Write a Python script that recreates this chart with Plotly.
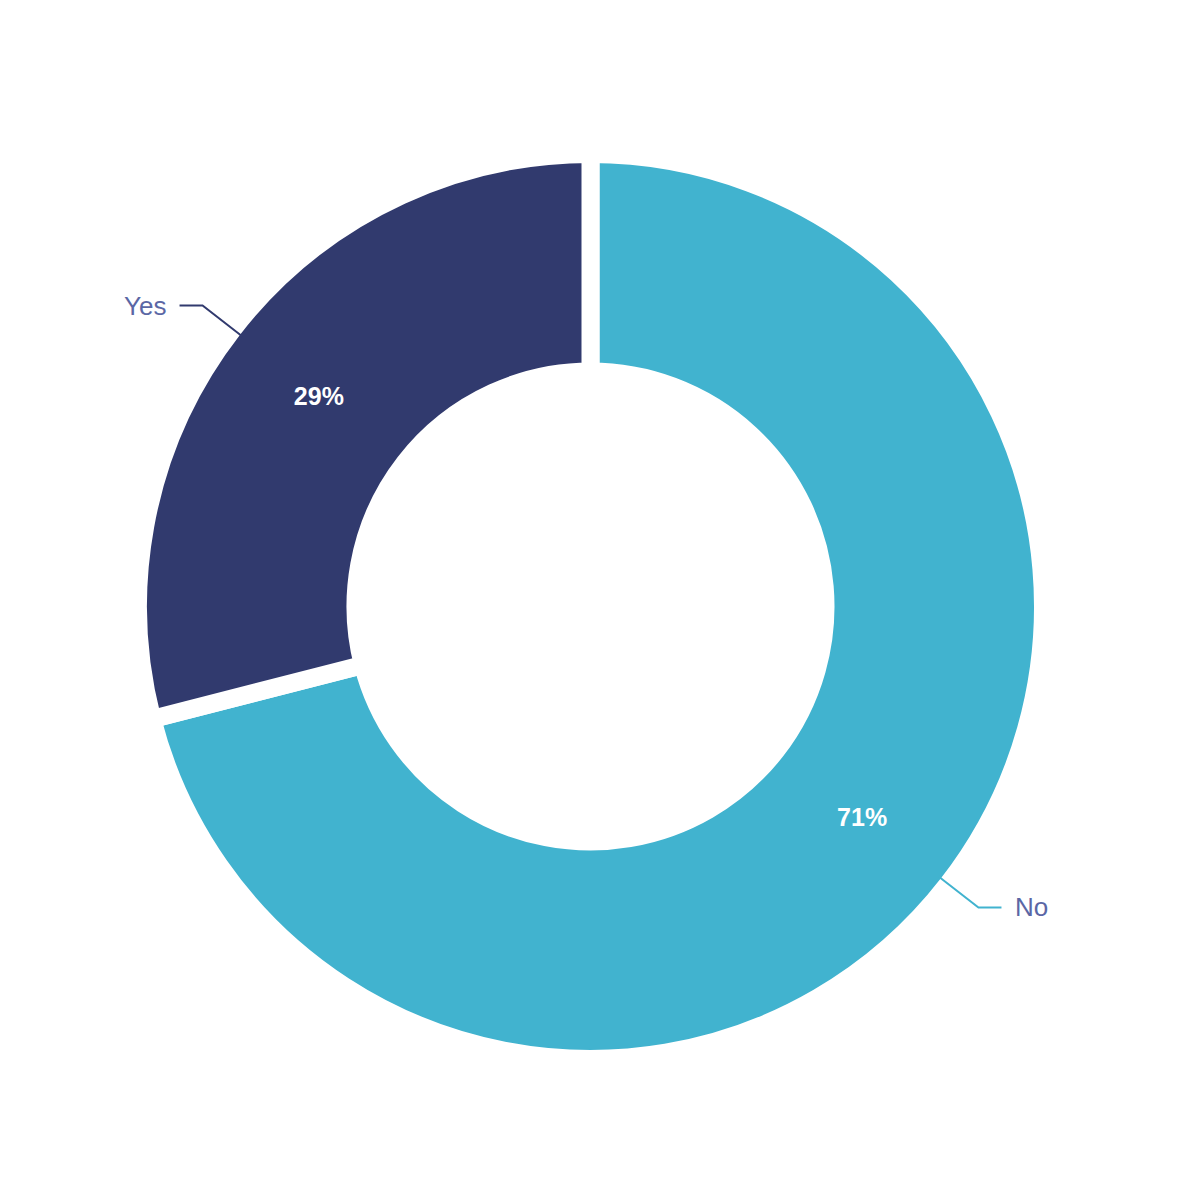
import math
import plotly.graph_objects as go

labels = ["No", "Yes"]
values = [71, 29]
colors = ["#41b3cf", "#313a6e"]
label_color = "#5b67a5"

W = H = 1200
OFF = 8                     # page body margin
cx, cy = 590.5 - OFF, 606.5 - OFF   # figure-pixel centre of the donut
r_vis = 443.5               # visible outer radius
gap = 18                    # white border width
R = r_vis + gap / 2
r_in_vis = 244
hole = (r_in_vis - gap / 2) / R

fig = go.Figure()
fig.add_trace(go.Pie(
    labels=labels, values=values, sort=False, direction="clockwise",
    rotation=0, hole=hole,
    marker=dict(colors=colors, line=dict(color="white", width=gap)),
    texttemplate="%{percent:.0%}", textposition="inside",
    insidetextorientation="horizontal",
    textfont=dict(family="Arial, Liberation Sans", size=25, color="white", weight="bold"),
    domain=dict(x=[(cx - R) / W, (cx + R) / W], y=[(H - cy - R) / H, (H - cy + R) / H]),
    showlegend=False, hoverinfo="label+percent",
))
# invisible trace so the pixel-mapped cartesian axes exist
fig.add_trace(go.Scatter(x=[0, W], y=[0, H], mode="markers", marker=dict(opacity=0),
                         hoverinfo="skip", showlegend=False))

# leader lines and outside labels, derived from the data (clockwise from 12 o'clock)
total = sum(values)
cum = 0
for lab, v, col in zip(labels, values, colors):
    mid = (cum + v / 2) / total * 2 * math.pi
    cum += v
    dx, dy = math.sin(mid), -math.cos(mid)   # screen y down
    x0, y0 = cx + dx * (r_vis - 3), cy + dy * (r_vis - 3)
    x1, y1 = cx + dx * 491, cy + dy * 491
    side = 1 if dx > 0 else -1
    x2 = x1 + side * 23
    fig.add_shape(type="path", xref="x", yref="y", layer="above",
                  path=f"M {x0},{y0} L {x1},{y1} L {x2},{y1}",
                  line=dict(color=col, width=2))
    fig.add_annotation(x=x2 + side * 12, y=y1, text=lab, showarrow=False,
                       xanchor="left" if side > 0 else "right", yanchor="middle",
                       font=dict(family="Arial, Liberation Sans", size=26, color=label_color))

fig.update_layout(
    width=W, height=H, margin=dict(l=0, r=0, t=0, b=0),
    paper_bgcolor="white", plot_bgcolor="rgba(0,0,0,0)",
    xaxis=dict(range=[0, W], visible=False, fixedrange=True),
    yaxis=dict(range=[H, 0], visible=False, fixedrange=True),
)
fig.write_html("out.html")
